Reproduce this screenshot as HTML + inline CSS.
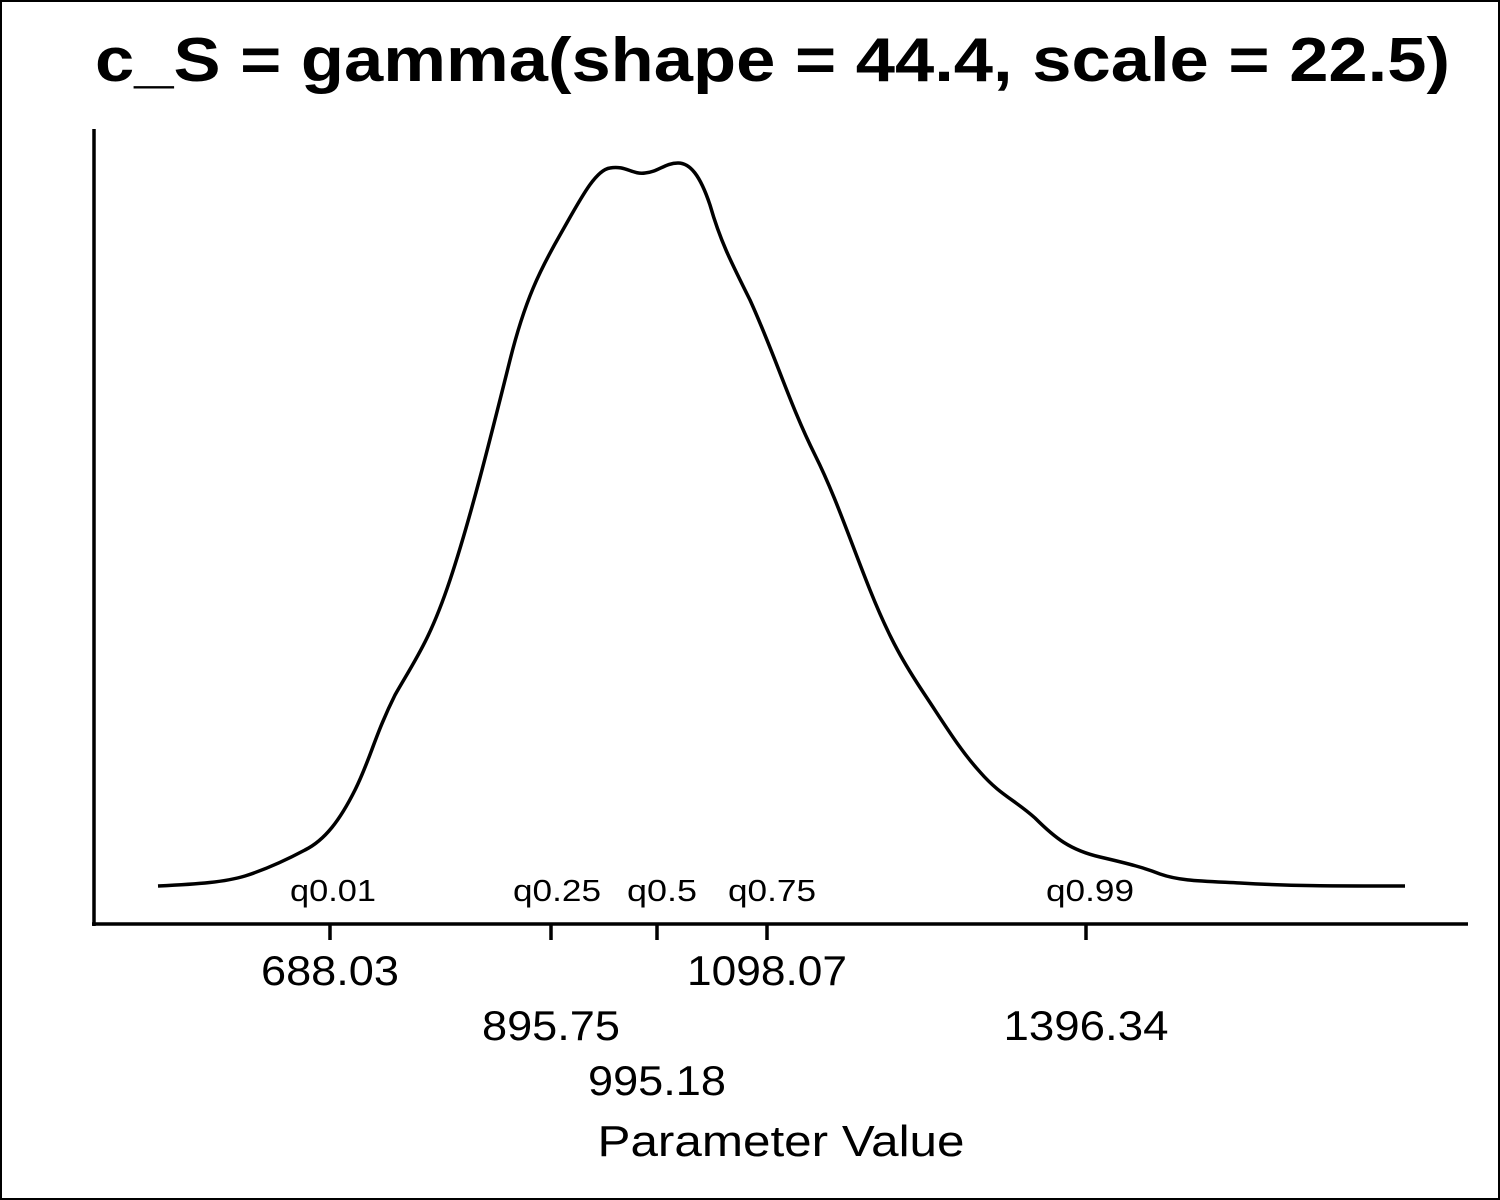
<!DOCTYPE html>
<html><head><meta charset="utf-8"><style>
html,body{margin:0;padding:0;background:#fff}
svg{display:block}
</style></head><body>
<svg width="1500" height="1200" viewBox="0 0 1500 1200" xmlns="http://www.w3.org/2000/svg" font-family="Liberation Sans, Arial, sans-serif">
<rect x="1" y="1" width="1498" height="1198" fill="#fff" stroke="#000" stroke-width="2"/>
<text x="95" y="81" font-size="62" font-weight="bold" textLength="1355" lengthAdjust="spacingAndGlyphs">c_S = gamma(shape = 44.4, scale = 22.5)</text>
<g stroke="#000" stroke-width="3.5" fill="none">
<line x1="94" y1="129" x2="94" y2="926"/>
<line x1="92" y1="924" x2="1468" y2="924"/>
<line x1="330" y1="924" x2="330" y2="940"/>
<line x1="551" y1="924" x2="551" y2="940"/>
<line x1="657" y1="924" x2="657" y2="940"/>
<line x1="767" y1="924" x2="767" y2="940"/>
<line x1="1086" y1="924" x2="1086" y2="940"/>
<path d="M158,886 C200,884 225,882 245,876 C270,868 290,858 305,850 C325,840 340,820 355,790 C370,760 375,735 395,695 C415,660 430,640 450,580 C470,520 490,440 510,360 C525,300 540,270 560,235 C580,200 595,170 610,168 C625,165 633,175 645,173 C658,172 665,163 678,163 C690,163 700,175 710,205 C720,240 730,260 750,300 C775,355 790,405 815,455 C835,495 850,540 870,590 C890,640 905,665 925,695 C945,725 960,750 980,772 C1000,795 1015,800 1035,818 C1055,838 1070,850 1100,857 C1130,864 1145,868 1160,874 C1180,881 1200,881 1240,883 C1290,886 1330,886 1405,886"/>
</g>
<g font-size="31" text-anchor="middle">
<text x="333" y="901" textLength="86" lengthAdjust="spacingAndGlyphs">q0.01</text>
<text x="557" y="901" textLength="88" lengthAdjust="spacingAndGlyphs">q0.25</text>
<text x="662" y="901" textLength="70" lengthAdjust="spacingAndGlyphs">q0.5</text>
<text x="772" y="901" textLength="88" lengthAdjust="spacingAndGlyphs">q0.75</text>
<text x="1090" y="901" textLength="88" lengthAdjust="spacingAndGlyphs">q0.99</text>
</g>
<g font-size="42" text-anchor="middle">
<text x="330" y="985" textLength="138" lengthAdjust="spacingAndGlyphs">688.03</text>
<text x="767" y="985" textLength="160" lengthAdjust="spacingAndGlyphs">1098.07</text>
<text x="551" y="1040" textLength="138" lengthAdjust="spacingAndGlyphs">895.75</text>
<text x="1086" y="1040" textLength="165" lengthAdjust="spacingAndGlyphs">1396.34</text>
<text x="657" y="1095" textLength="138" lengthAdjust="spacingAndGlyphs">995.18</text>
<text x="781" y="1156" font-size="44" textLength="367" lengthAdjust="spacingAndGlyphs">Parameter Value</text>
</g>
</svg>
</body></html>
